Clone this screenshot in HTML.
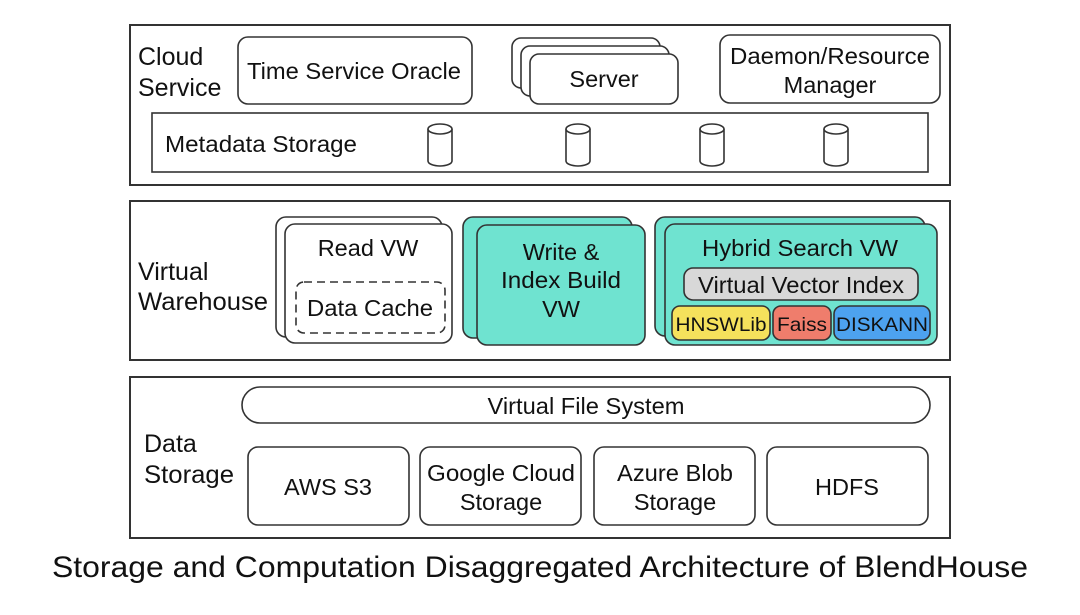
<!DOCTYPE html>
<html><head><meta charset="utf-8"><style>
html,body{margin:0;padding:0;background:#fff;width:1080px;height:615px;overflow:hidden}
text{font-family:"Liberation Sans",Arial,sans-serif;fill:#111}
</style></head><body>
<svg width="1080" height="615" viewBox="0 0 1080 615" xmlns="http://www.w3.org/2000/svg">
<g fill="none" stroke="#333" stroke-width="1.6">
<rect x="130" y="25" width="820" height="160" stroke-width="2"/>
<rect x="130" y="201" width="820" height="159" stroke-width="2"/>
<rect x="130" y="377" width="820" height="161" stroke-width="2"/>
<rect x="238" y="37" width="234" height="67" rx="10" fill="#fff"/>
<rect x="512" y="38" width="148" height="50" rx="9" fill="#fff"/>
<rect x="521" y="46" width="148" height="50" rx="9" fill="#fff"/>
<rect x="530" y="54" width="148" height="50" rx="9" fill="#fff"/>
<rect x="720" y="35" width="220" height="68" rx="10" fill="#fff"/>
<rect x="152" y="113" width="776" height="59" fill="#fff"/>
</g>
<g fill="#fff" stroke="#333" stroke-width="1.6">
<path d="M428 129 v32 a12 5 0 0 0 24 0 v-32"/><ellipse cx="440" cy="129" rx="12" ry="5"/>
<path d="M566 129 v32 a12 5 0 0 0 24 0 v-32"/><ellipse cx="578" cy="129" rx="12" ry="5"/>
<path d="M700 129 v32 a12 5 0 0 0 24 0 v-32"/><ellipse cx="712" cy="129" rx="12" ry="5"/>
<path d="M824 129 v32 a12 5 0 0 0 24 0 v-32"/><ellipse cx="836" cy="129" rx="12" ry="5"/>
</g>
<text x="138" y="65" font-size="25">Cloud</text>
<text x="138" y="96" font-size="25">Service</text>
<text x="354" y="79" font-size="23.5" text-anchor="middle" textLength="214" lengthAdjust="spacingAndGlyphs">Time Service Oracle</text>
<text x="604" y="87" font-size="23.5" text-anchor="middle">Server</text>
<text x="830" y="64" font-size="23.5" text-anchor="middle" textLength="200" lengthAdjust="spacingAndGlyphs">Daemon/Resource</text>
<text x="830" y="93" font-size="23.5" text-anchor="middle">Manager</text>
<text x="165" y="152" font-size="23.5" textLength="192" lengthAdjust="spacingAndGlyphs">Metadata Storage</text>

<g stroke="#333" stroke-width="1.6">
<rect x="276" y="217" width="166" height="120" rx="10" fill="#fff"/>
<rect x="285" y="224" width="167" height="119" rx="10" fill="#fff"/>
<rect x="296" y="282" width="149" height="51" rx="8" fill="none" stroke-dasharray="8,5"/>
<rect x="463" y="217" width="169" height="121" rx="10" fill="#6fe3d0"/>
<rect x="477" y="225" width="168" height="120" rx="10" fill="#6fe3d0"/>
<rect x="655" y="217" width="270" height="119" rx="10" fill="#6fe3d0"/>
<rect x="665" y="224" width="272" height="121" rx="10" fill="#6fe3d0"/>
<rect x="684" y="268" width="234" height="32" rx="9" fill="#d8d8d8"/>
<rect x="672" y="306" width="98" height="34" rx="8" fill="#f5e15c"/>
<rect x="773" y="306" width="58" height="34" rx="8" fill="#ef7d6c"/>
<rect x="834" y="306" width="96" height="34" rx="8" fill="#4da2ef"/>
</g>
<text x="138" y="280" font-size="25">Virtual</text>
<text x="138" y="310" font-size="25" textLength="130" lengthAdjust="spacingAndGlyphs">Warehouse</text>
<text x="368" y="256" font-size="23.5" text-anchor="middle">Read VW</text>
<text x="370" y="316" font-size="23.5" text-anchor="middle" textLength="126" lengthAdjust="spacingAndGlyphs">Data Cache</text>
<text x="561" y="260" font-size="23.5" text-anchor="middle">Write &amp;</text>
<text x="561" y="288" font-size="23.5" text-anchor="middle" textLength="120" lengthAdjust="spacingAndGlyphs">Index Build</text>
<text x="561" y="317" font-size="23.5" text-anchor="middle">VW</text>
<text x="800" y="256" font-size="23.5" text-anchor="middle" textLength="196" lengthAdjust="spacingAndGlyphs">Hybrid Search VW</text>
<text x="801" y="293" font-size="23.5" text-anchor="middle" textLength="206" lengthAdjust="spacingAndGlyphs">Virtual Vector Index</text>
<text x="721" y="331" font-size="19.5" text-anchor="middle" textLength="91" lengthAdjust="spacingAndGlyphs">HNSWLib</text>
<text x="802" y="331" font-size="19.5" text-anchor="middle" textLength="50" lengthAdjust="spacingAndGlyphs">Faiss</text>
<text x="882" y="331" font-size="19.5" text-anchor="middle" textLength="92" lengthAdjust="spacingAndGlyphs">DISKANN</text>

<g fill="#fff" stroke="#333" stroke-width="1.6">
<rect x="242" y="387" width="688" height="36" rx="18"/>
<rect x="248" y="447" width="161" height="78" rx="10"/>
<rect x="420" y="447" width="161" height="78" rx="10"/>
<rect x="594" y="447" width="161" height="78" rx="10"/>
<rect x="767" y="447" width="161" height="78" rx="10"/>
</g>
<text x="586" y="414" font-size="23.5" text-anchor="middle" textLength="197" lengthAdjust="spacingAndGlyphs">Virtual File System</text>
<text x="144" y="452" font-size="25">Data</text>
<text x="144" y="483" font-size="25" textLength="90" lengthAdjust="spacingAndGlyphs">Storage</text>
<text x="328" y="495" font-size="23.5" text-anchor="middle">AWS S3</text>
<text x="501" y="481" font-size="23.5" text-anchor="middle" textLength="148" lengthAdjust="spacingAndGlyphs">Google Cloud</text>
<text x="501" y="510" font-size="23.5" text-anchor="middle">Storage</text>
<text x="675" y="481" font-size="23.5" text-anchor="middle" textLength="116" lengthAdjust="spacingAndGlyphs">Azure Blob</text>
<text x="675" y="510" font-size="23.5" text-anchor="middle">Storage</text>
<text x="847" y="495" font-size="23.5" text-anchor="middle">HDFS</text>
<text x="540" y="577" font-size="30" text-anchor="middle" textLength="976" lengthAdjust="spacingAndGlyphs">Storage and Computation Disaggregated Architecture of BlendHouse</text>
</svg>
</body></html>
